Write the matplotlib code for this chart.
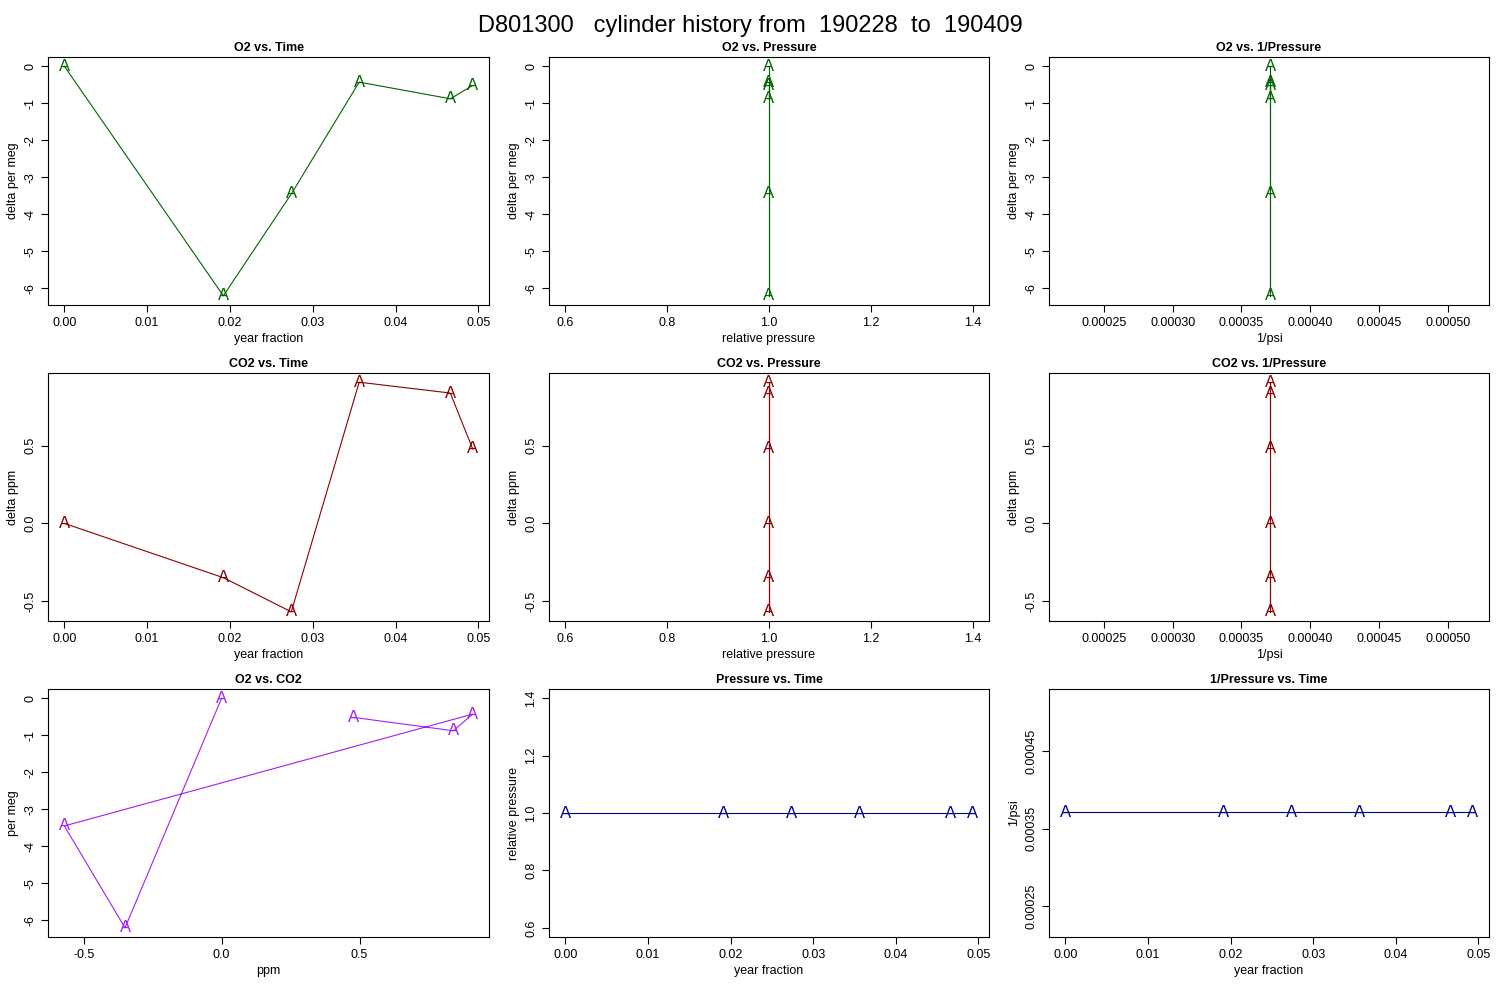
import matplotlib
matplotlib.use("Agg")
import matplotlib.pyplot as plt
import numpy as np

plt.rcParams['font.family'] = ['Liberation Sans', 'DejaVu Sans']

year_frac = [0.0, 0.0192, 0.0274, 0.0356, 0.0466, 0.0493]
o2 = [0.0, -6.2, -3.45, -0.43, -0.88, -0.52]
co2 = [0.0, -0.35, -0.57, 0.91, 0.84, 0.48]
rel_p = [1.0] * 6
inv_psi = [0.000371] * 6

title = "D801300   cylinder history from  190228  to  190409"

fig = plt.figure(figsize=(15, 10), dpi=100)
fig.text(0.5, 0.985, title, ha='center', va='top', fontsize=17)

W, H = 1500, 1000
cols = [(48, 489), (549, 989), (1049, 1489)]
rows = [(57, 305), (373, 621), (689, 937)]

green, red, purple, blue = '#006400', '#8B0000', '#A020F0', '#00008B'

def pad(lo, hi):
    d = (hi - lo) * 0.04
    return lo - d, hi + d

panels = [
    (year_frac, o2, green, "O2 vs. Time", "year fraction", "delta per meg", None, None),
    (rel_p, o2, green, "O2 vs. Pressure", "relative pressure", "delta per meg", (0.6, 1.4), None),
    (inv_psi, o2, green, "O2 vs. 1/Pressure", "1/psi", "delta per meg", (0.000222, 0.000518), None),
    (year_frac, co2, red, "CO2 vs. Time", "year fraction", "delta ppm", None, None),
    (rel_p, co2, red, "CO2 vs. Pressure", "relative pressure", "delta ppm", (0.6, 1.4), None),
    (inv_psi, co2, red, "CO2 vs. 1/Pressure", "1/psi", "delta ppm", (0.000222, 0.000518), None),
    (co2, o2, purple, "O2 vs. CO2", "ppm", "per meg", None, None),
    (year_frac, rel_p, blue, "Pressure vs. Time", "year fraction", "relative pressure", None, (0.6, 1.4)),
    (year_frac, inv_psi, blue, "1/Pressure vs. Time", "year fraction", "1/psi", None, (0.000222, 0.000518)),
]

def set_ticks(ax, axis, vals, labels):
    if axis == 'x':
        ax.set_xticks(vals)
        ax.set_xticklabels(labels)
    else:
        ax.set_yticks(vals)
        ax.set_yticklabels(labels, rotation=90, va='center')

for i, (x, y, c, t, xl, yl, xr, yr) in enumerate(panels):
    r, cc = divmod(i, 3)
    x0, x1 = cols[cc]
    y0, y1 = rows[r]
    ax = fig.add_axes([x0 / W, 1 - y1 / H, (x1 - x0) / W, (y1 - y0) / H])
    ax.plot(x, y, color=c, lw=0.8, zorder=1)
    for xi, yi in zip(x, y):
        ax.text(xi, yi, "A", color=c, ha='center', va='center', fontsize=12, zorder=3)
    xr = xr or (min(x), max(x))
    yr = yr or (min(y), max(y))
    ax.set_xlim(*pad(*xr))
    ax.set_ylim(*pad(*yr))
    ax.set_title(t, fontsize=9, fontweight='bold', pad=4)
    ax.set_xlabel(xl, fontsize=9, labelpad=3)
    ax.set_ylabel(yl, fontsize=9, labelpad=4)
    ax.tick_params(labelsize=9, direction='out', length=5)
    for lab in ax.get_yticklabels():
        lab.set_rotation(90)
        lab.set_va('center')
    if i in (2, 5):
        set_ticks(ax, 'x', [0.00025, 0.0003, 0.00035, 0.0004, 0.00045, 0.0005],
                  ["0.00025", "0.00030", "0.00035", "0.00040", "0.00045", "0.00050"])
    if i in (1, 4):
        set_ticks(ax, 'x', [0.6, 0.8, 1.0, 1.2, 1.4], ["0.6", "0.8", "1.0", "1.2", "1.4"])
    if i == 7:
        set_ticks(ax, 'y', [0.6, 0.8, 1.0, 1.2, 1.4], ["0.6", "0.8", "1.0", "1.2", "1.4"])
    if i == 8:
        set_ticks(ax, 'y', [0.00025, 0.00035, 0.00045], ["0.00025", "0.00035", "0.00045"])
    if i in (0, 1, 2, 6):
        set_ticks(ax, 'y', [0, -1, -2, -3, -4, -5, -6], ["0", "-1", "-2", "-3", "-4", "-5", "-6"])
    if i in (3, 4, 5):
        set_ticks(ax, 'y', [-0.5, 0.0, 0.5], ["-0.5", "0.0", "0.5"])
    if i == 6:
        set_ticks(ax, 'x', [-0.5, 0.0, 0.5], ["-0.5", "0.0", "0.5"])

fig.savefig("out.png", dpi=100)
